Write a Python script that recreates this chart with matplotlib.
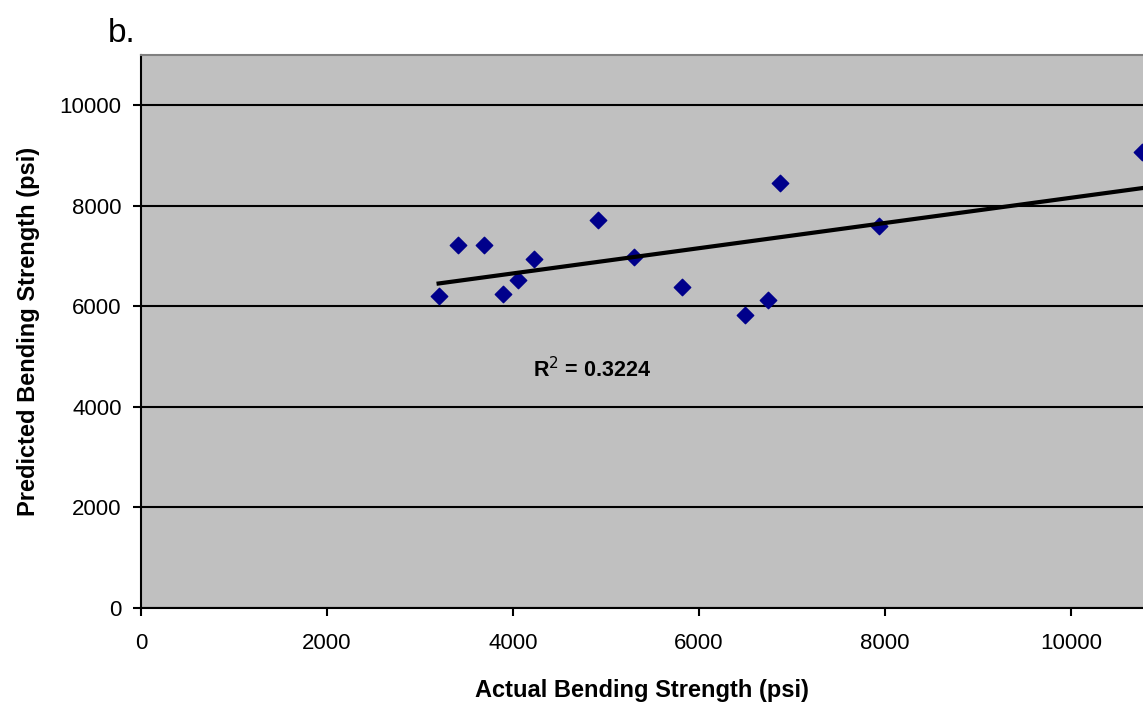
import numpy as np
import matplotlib.pyplot as plt

plt.rcParams['font.family'] = ['Liberation Sans', 'DejaVu Sans']

# actual vs predicted bending strength (psi)
actual = np.array([3200, 3410, 3690, 3890, 4050, 4230, 4910, 5300, 5820, 6500, 6740, 6870, 7940, 10760])
predicted = np.array([6200, 7220, 7220, 6250, 6520, 6950, 7720, 6990, 6380, 5820, 6130, 8460, 7610, 9080])
r2_text = 'R$^2$ = 0.3224'

fig = plt.figure(figsize=(11.43, 7.07), dpi=100)
ax = fig.add_axes([0.1234, 0.140, 0.8766, 0.782])
ax.set_facecolor('#c0c0c0')

ax.scatter(actual, predicted, marker='D', s=70, color='#00008b', zorder=3, clip_on=False)

# linear trend line
b, a = np.polyfit(actual, predicted, 1)
xs = np.array([actual.min(), actual.max()])
ax.plot(xs, a + b * xs, color='black', lw=3, zorder=4)

ax.text(4850, 4740, r2_text, fontsize=15.5, fontweight='bold', ha='center', va='center')

ax.set_xlim(0, 10775)
ax.set_ylim(0, 11000)
ax.set_xticks([0, 2000, 4000, 6000, 8000, 10000])
ax.set_yticks([0, 2000, 4000, 6000, 8000, 10000])
ax.yaxis.grid(True, color='black', lw=1.5)
ax.set_axisbelow(True)
ax.tick_params(labelsize=16, length=6, width=1.5, direction='out', pad=8)
ax.tick_params(axis='x', pad=12)

for side in ['left', 'bottom']:
    ax.spines[side].set_linewidth(1.5)
    ax.spines[side].set_color('black')
ax.spines['top'].set_color('#808080')
ax.spines['top'].set_linewidth(1.5)
ax.spines['right'].set_visible(False)

ax.set_xlabel('Actual Bending Strength (psi)', fontsize=17, fontweight='bold', labelpad=18)
ax.set_ylabel('Predicted Bending Strength (psi)', fontsize=17, fontweight='bold', labelpad=14)

fig.text(0.094, 0.94, 'b.', fontsize=24)

fig.savefig('out.png', dpi=100)
